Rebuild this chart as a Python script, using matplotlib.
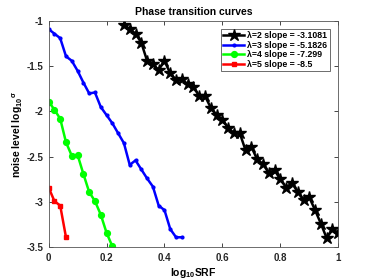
import numpy as np
import matplotlib
matplotlib.use('Agg')
import matplotlib.pyplot as plt

# log10(SRF) grids and noise level curves
x2 = np.round(np.arange(0.26, 1.001, 0.02), 2)
y2 = [-1.04, -1.09, -1.14, -1.24, -1.44, -1.48, -1.54, -1.44, -1.58, -1.65,
      -1.64, -1.70, -1.73, -1.83, -1.83, -1.96, -2.04, -2.09, -2.18, -2.24,
      -2.24, -2.43, -2.39, -2.53, -2.58, -2.68, -2.65, -2.75, -2.84, -2.79,
      -2.89, -2.98, -2.95, -3.09, -3.24, -3.40, -3.30, -3.34]

x3 = np.round(np.arange(0.0, 0.461, 0.02), 2)
y3 = [-1.09, -1.14, -1.19, -1.39, -1.44, -1.55, -1.68, -1.80, -1.79, -1.95,
      -2.04, -2.13, -2.24, -2.35, -2.59, -2.54, -2.64, -2.74, -2.83, -3.04,
      -3.09, -3.30, -3.39, -3.39]

x4 = np.round(np.arange(0.0, 0.221, 0.02), 2)
y4 = [-1.89, -1.98, -2.08, -2.34, -2.49, -2.48, -2.69, -2.89, -2.99, -3.14,
      -3.34, -3.49]

x5 = [0.0, 0.02, 0.04, 0.06]
y5 = [-2.84, -2.99, -3.04, -3.39]

labels = ['λ=2 slope = -3.1081', 'λ=3 slope = -5.1826',
          'λ=4 slope = -7.299', 'λ=5 slope = -8.5']

plt.rcParams['font.family'] = 'Liberation Sans'
plt.rcParams['font.weight'] = 'bold'
plt.rcParams['mathtext.default'] = 'regular'

fig = plt.figure(figsize=(3.74, 2.8), dpi=100)
ax = fig.add_axes([0.130, 0.117, 0.7745, 0.808])

ax.plot(x2, y2, color='black', lw=1.8, marker='*', ms=9, label=labels[0])
ax.plot(x3, y3, color='blue', lw=1.8, marker='.', ms=4, label=labels[1])
ax.plot(x4, y4, color='#00ff00', lw=1.8, marker='o', ms=4.2, label=labels[2])
ax.plot(x5, y5, color='red', lw=1.8, marker='s', ms=3.5, label=labels[3])

ax.set_xlim(0, 1)
ax.set_ylim(-3.5, -1)
ax.set_xticks([0, 0.2, 0.4, 0.6, 0.8, 1])
ax.set_xticklabels(['0', '0.2', '0.4', '0.6', '0.8', '1'])
ax.set_yticks([-3.5, -3, -2.5, -2, -1.5, -1])
ax.set_yticklabels(['-3.5', '-3', '-2.5', '-2', '-1.5', '-1'])
ax.tick_params(direction='in', length=3, width=0.6, labelsize=7,
               top=True, right=True, colors='#262626', pad=4)
for s in ax.spines.values():
    s.set_color('#555555')
    s.set_linewidth(0.6)

ax.set_title('Phase transition curves', fontsize=7.5, fontweight='bold', pad=4)
ax.set_xlabel(r'log$_{10}$SRF', fontsize=7.5, fontweight='bold', labelpad=2)
ax.set_ylabel(r'noise level log$_{10}{}^{\sigma}$', fontsize=7.5, fontweight='bold', labelpad=1)

leg = ax.legend(loc='upper right', fontsize=6.3, handlelength=2.4, borderpad=0.3,
                labelspacing=0.05, handletextpad=0.3, fancybox=False,
                edgecolor='#555555', framealpha=1, bbox_to_anchor=(0.985, 0.985))
leg.get_frame().set_linewidth(0.6)

fig.savefig('out.png', dpi=100)
